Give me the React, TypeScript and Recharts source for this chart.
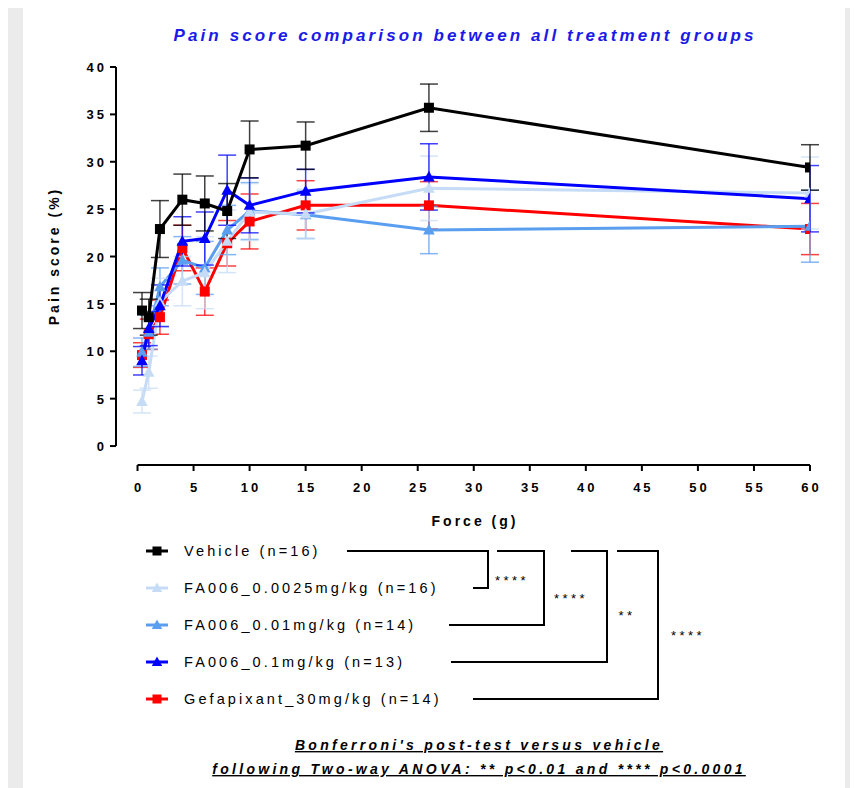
import React from 'react'
import { LineChart, Line, XAxis, YAxis, ErrorBar, ReferenceLine } from 'recharts'

// von Frey filament forces (g)
const forces = [0.4, 1, 2, 4, 6, 8, 10, 15, 26, 60]

// pain score (%) means and SEM
const vehicle = [14.3, 13.6, 22.9, 26.0, 25.6, 24.8, 31.3, 31.7, 35.7, 29.4]
const vehicleSem = [1.9, 1.9, 3.0, 2.7, 2.9, 2.9, 3.0, 2.5, 2.5, 2.4]
const fa0025 = [4.7, 7.8, 15.2, 17.4, 18.3, 21.6, 24.7, 24.5, 27.2, 26.7]
const fa0025Sem = [1.2, 1.7, 2.5, 2.6, 3.8, 3.3, 3.0, 2.6, 3.4, 3.8]
const fa001 = [9.9, 12.0, 16.8, 19.6, 18.8, 22.8, 24.8, 24.4, 22.8, 23.2]
const fa001Sem = [1.5, 1.8, 2.0, 2.5, 2.8, 2.6, 3.0, 2.5, 2.5, 3.8]
const fa01 = [9.0, 12.4, 14.8, 21.6, 21.9, 27.0, 25.4, 26.9, 28.4, 26.1]
const fa01Sem = [1.5, 1.8, 2.2, 2.6, 2.8, 3.7, 2.9, 2.3, 3.5, 3.5]
const gefapixant = [9.6, 11.8, 13.6, 20.9, 16.3, 21.4, 23.7, 25.4, 25.4, 22.9]
const gefapixantSem = [1.3, 1.6, 1.8, 2.4, 2.5, 2.4, 2.9, 2.6, 2.5, 2.7]

const xTicks = [0, 5, 10, 15, 20, 25, 30, 35, 40, 45, 50, 55, 60]
const yTicks = [0, 5, 10, 15, 20, 25, 30, 35, 40]

const legendNames = [
  'Vehicle (n=16)',
  'FA006_0.0025mg/kg (n=16)',
  'FA006_0.01mg/kg (n=14)',
  'FA006_0.1mg/kg (n=13)',
  'Gefapixant_30mg/kg (n=14)',
]
const stars = ['****', '****', '**', '****']

type Shape = 'square' | 'triangle'

interface Group {
  key: string
  color: string
  shape: Shape
  values: number[]
  sem: number[]
  legend: number
}

// drawing order (last on top)
const groups: Group[] = [
  { key: 'gef', color: '#ff0000', shape: 'square', values: gefapixant, sem: gefapixantSem, legend: 4 },
  { key: 'fa001', color: '#5a9ef0', shape: 'triangle', values: fa001, sem: fa001Sem, legend: 2 },
  { key: 'fa0025', color: '#c6dcf6', shape: 'triangle', values: fa0025, sem: fa0025Sem, legend: 1 },
  { key: 'fa01', color: '#0000ff', shape: 'triangle', values: fa01, sem: fa01Sem, legend: 3 },
  { key: 'veh', color: '#000000', shape: 'square', values: vehicle, sem: vehicleSem, legend: 0 },
]

const data = forces.map((f, i) => {
  const row: Record<string, number> = { force: f }
  groups.forEach((g) => {
    row[g.key] = g.values[i]
    row[g.key + 'Err'] = g.sem[i]
  })
  return row
})

const FONT = '"Liberation Sans", Arial, sans-serif'

const marker = (shape: Shape, color: string, cx: number, cy: number, size: number, key?: React.Key) => {
  if (shape === 'square') {
    return <rect key={key} x={cx - size / 2} y={cy - size / 2} width={size} height={size} fill={color} />
  }
  const h = size
  return (
    <path
      key={key}
      d={`M${cx},${cy - h * 0.62} L${cx + h * 0.58},${cy + h * 0.45} L${cx - h * 0.58},${cy + h * 0.45} Z`}
      fill={color}
    />
  )
}

const makeDot = (shape: Shape, color: string) => (props: any) => {
  const { cx, cy, index } = props
  if (cx == null || cy == null) return <g key={index} />
  return marker(shape, color, cx, cy, 10, index)
}

const XTick = (props: any) => {
  const { x, y, payload } = props
  return (
    <text x={x + 1.5} y={y} dy={13} textAnchor="middle" fontFamily={FONT} fontWeight="bold" fontSize={13} fill="#000" style={{ letterSpacing: '3px' }}>
      {payload.value}
    </text>
  )
}

const YTick = (props: any) => {
  const { x, y, payload } = props
  return (
    <text x={x + 1} y={y} dy={5} textAnchor="end" fontFamily={FONT} fontWeight="bold" fontSize={13} fill="#000" style={{ letterSpacing: '3px' }}>
      {payload.value}
    </text>
  )
}

const legendRows = [551, 588, 625, 662, 699]
const brackets = [
  { row: 1, x1: 347, x2: 488, xEnd: 473, sx: 512, sy: 585 },
  { row: 2, x1: 497, x2: 544, xEnd: 449, sx: 571, sy: 603 },
  { row: 3, x1: 571, x2: 607, xEnd: 451, sx: 627, sy: 620 },
  { row: 4, x1: 617, x2: 658, xEnd: 473, sx: 688, sy: 640 },
]

const Overlay = () => (
  <svg width={858} height={788} style={{ position: 'absolute', left: 0, top: 0, pointerEvents: 'none' }}>
    <text x={465} y={41} textAnchor="middle" fontFamily={FONT} fontWeight="bold" fontStyle="italic" fontSize={17} fill="#1a1ae8" style={{ letterSpacing: '3.1px' }}>
      Pain score comparison between all treatment groups
    </text>
    <text
      transform="translate(59,256) rotate(-90)"
      textAnchor="middle"
      fontFamily={FONT}
      fontWeight="bold"
      fontSize={14}
      fill="#000"
      style={{ letterSpacing: '3px' }}
    >
      Pain score (%)
    </text>
    <text x={475} y={526} textAnchor="middle" fontFamily={FONT} fontWeight="bold" fontSize={14} fill="#000" style={{ letterSpacing: '3px' }}>
      Force (g)
    </text>

    {legendNames.map((name, i) => {
      const g = groups.find((gr) => gr.legend === i)!
      const y = legendRows[i]
      return (
        <g key={name}>
          <line x1={146} y1={y} x2={168} y2={y} stroke={g.color} strokeWidth={3} />
          {marker(g.shape, g.color, 157, y, 9)}
          <text x={184} y={y + 5} fontFamily={FONT} fontSize={14.5} fill="#000" style={{ letterSpacing: '3.1px' }}>
            {name}
          </text>
        </g>
      )
    })}

    {brackets.map((b, i) => (
      <g key={i}>
        <polyline
          points={`${b.x1},${legendRows[0]} ${b.x2},${legendRows[0]} ${b.x2},${legendRows[b.row]} ${b.xEnd},${legendRows[b.row]}`}
          fill="none"
          stroke="#000"
          strokeWidth={2}
        />
        <text x={b.sx} y={b.sy} textAnchor="middle" fontFamily={FONT} fontSize={13} fill="#000" style={{ letterSpacing: '3.5px' }}>
          {stars[i]}
        </text>
      </g>
    ))}

    <text x={479} y={750} textAnchor="middle" fontFamily={FONT} fontWeight="bold" fontStyle="italic" fontSize={14} fill="#000" style={{ letterSpacing: '3.3px', textDecoration: 'underline' }}>
      Bonferroni's post-test versus vehicle
    </text>
    <text x={479} y={774} textAnchor="middle" fontFamily={FONT} fontWeight="bold" fontStyle="italic" fontSize={14} fill="#000" style={{ letterSpacing: '3.3px', textDecoration: 'underline' }}>
      following Two-way ANOVA: ** p&lt;0.01 and **** p&lt;0.0001
    </text>
  </svg>
)

const App: React.FC = () => {
  return (
    <div style={{ position: 'relative', margin: '-8px 0 0 -8px', width: 858, height: 788, background: '#ebebeb', overflow: 'hidden' }}>
      <div style={{ position: 'absolute', left: 23, top: 3, width: 822, height: 785, background: '#ffffff' }} />
      <div style={{ position: 'absolute', left: 0, top: 0 }}>
        <LineChart
          width={858}
          height={788}
          data={data}
          margin={{ top: 67, right: 48, left: 76, bottom: 263 }}
        >
          <XAxis
            dataKey="force"
            type="number"
            domain={[-1.92, 60]}
            allowDataOverflow
            ticks={xTicks}
            interval={0}
            height={60}
            axisLine={false}
            tickLine={{ stroke: '#000', strokeWidth: 2 }}
            tickSize={6}
            tickMargin={8}
            tick={<XTick />}
          />
          <YAxis
            type="number"
            domain={[-2, 40]}
            allowDataOverflow
            ticks={yTicks}
            interval={0}
            width={40}
            axisLine={false}
            tickLine={{ stroke: '#000', strokeWidth: 2 }}
            tickSize={6}
            tickMargin={4}
            tick={<YTick />}
          />
          <ReferenceLine
            segment={[{ x: 0, y: -2 }, { x: 60, y: -2 }]}
            stroke="#000"
            strokeWidth={2}
          />
          <ReferenceLine
            segment={[{ x: -1.92, y: 0 }, { x: -1.92, y: 40 }]}
            stroke="#000"
            strokeWidth={2}
          />
          {groups.map((g) => (
            <Line
              key={g.key}
              dataKey={g.key}
              type="linear"
              stroke={g.color}
              strokeWidth={3}
              dot={makeDot(g.shape, g.color)}
              activeDot={false}
              isAnimationActive={false}
            >
              <ErrorBar dataKey={g.key + 'Err'} direction="y" width={9} stroke={g.color} strokeWidth={1.5} strokeOpacity={0.75} />
            </Line>
          ))}
        </LineChart>
      </div>
      <Overlay />
    </div>
  )
}

export default App
